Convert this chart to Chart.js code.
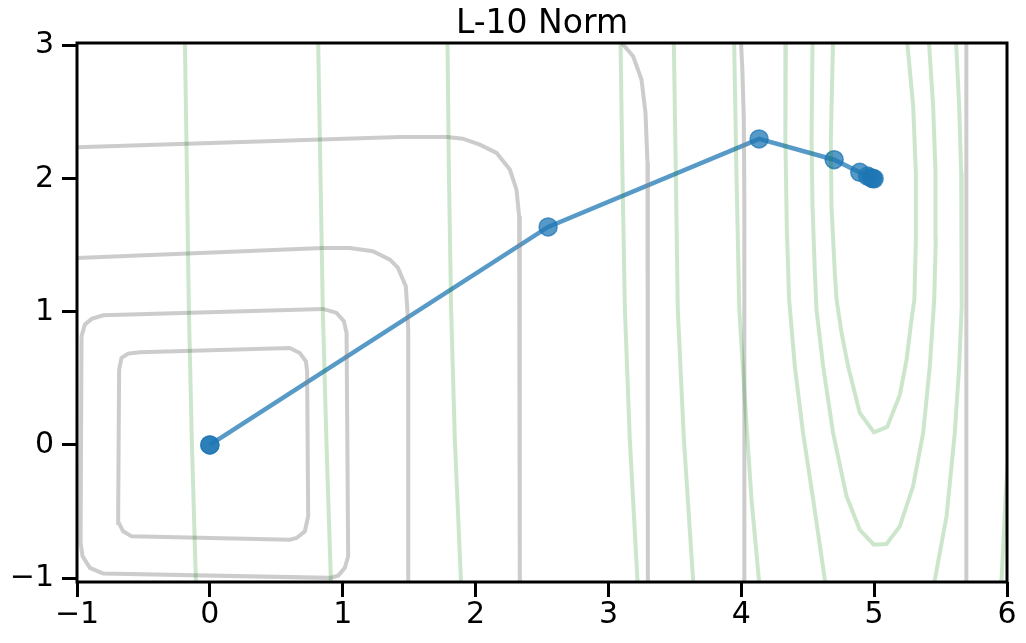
<!DOCTYPE html>
<html><head><meta charset="utf-8">
<script src="https://cdn.jsdelivr.net/npm/chart.js@4/dist/chart.umd.min.js"></script>
<style>html,body{margin:0;padding:0;background:#fff}canvas{display:block}</style>
</head><body>
<canvas id="c" width="1026" height="643"></canvas>
<script>
const titleText = 'L-10 Norm';
const xTicks = [-1, 0, 1, 2, 3, 4, 5, 6];
const yTicks = [-1, 0, 1, 2, 3];
const xTickLabels = ['−1', '0', '1', '2', '3', '4', '5', '6'];
const yTickLabels = ['−1', '0', '1', '2', '3'];

// descent path
const pathX = [0, 0, 2.546, 4.134, 4.699, 4.892, 4.95, 4.975, 4.99, 5.0];
const pathY = [0, 0, 1.638, 2.299, 2.143, 2.048, 2.02, 2.008, 2.002, 2.0];

// gray contours (L-10 norm level sets)
const norm1X = [-0.683,-0.665,-0.615,-0.527,0.602,0.677,0.723,0.732,0.740,0.715,0.653,0.602,-0.589,-0.653,-0.685,-0.690,-0.683];
const norm1Y = [0.566,0.654,0.686,0.696,0.729,0.691,0.628,0.553,-0.536,-0.649,-0.699,-0.712,-0.687,-0.649,-0.586,-0.511,0.566];
const norm2X = [-0.966,-0.941,-0.890,-0.803,0.853,0.954,1.009,1.029,1.041,1.016,0.966,0.903,-0.803,-0.903,-0.958,-0.973,-0.966];
const norm2Y = [0.816,0.904,0.947,0.974,1.022,0.992,0.929,0.841,-0.837,-0.924,-0.982,-0.999,-0.967,-0.924,-0.837,-0.736,0.816];
const norm3X = [-1.1,0.851,1.054,1.227,1.355,1.415,1.475,1.488,1.493,1.493];
const norm3Y = [1.400,1.480,1.480,1.455,1.392,1.332,1.192,0.992,0.866,-1.1];
const norm4X = [-1.1,1.430,1.784,1.904,2.032,2.158,2.258,2.308,2.328,2.333,2.333];
const norm4Y = [2.233,2.314,2.313,2.301,2.256,2.194,2.069,1.918,1.718,1.518,-1.1];
const norm5X = [3.093,3.111,3.186,3.249,3.279,3.294,3.297];
const norm5Y = [3.048,3.008,2.920,2.745,2.494,2.119,-1.1];
const norm6X = [3.997,4.008,4.019,4.023,4.023];
const norm6Y = [3.048,2.822,2.446,1.845,-1.1];
const norm7X = [5.694,5.694];
const norm7Y = [3.1,-1.1];

// green contours (loss level sets)
const lossEdgeY = [3.1,2.068,1.016,0.040,-1.027,-1.1];
const loss1X = [-0.189,-0.173,-0.158,-0.136,-0.105,-0.101];
const loss2X = [0.814,0.832,0.850,0.877,0.911,0.916];
const loss3X = [1.788,1.799,1.816,1.844,1.890,1.894];
const loss4X = [3.090,3.105,3.124,3.161,3.219,3.225];
const loss5X = [3.491,3.507,3.522,3.568,3.638,3.645];
const loss6X = [3.945,3.963,3.985,4.027,4.077,4.134,4.140];
const loss6Y = [3.1,2.068,1.016,0.341,-0.410,-1.027,-1.1];
const loss7LX = [4.336,4.332,4.343,4.360,4.403,4.465,4.541,4.629,4.640];
const loss7LY = [3.1,2.294,1.617,1.092,0.591,0.090,-0.410,-1.012,-1.1];
const loss7RX = [5.613,5.640,5.655,5.660,5.658,5.640,5.607,5.545,5.457,5.445];
const loss7RY = [3.1,2.544,2.044,1.542,1.041,0.591,0.090,-0.536,-1.012,-1.1];
const loss8X = [4.537,4.529,4.536,4.554,4.566,4.616,4.691,4.792,4.892,4.998,5.093,5.193,5.293,5.369,5.419,5.452,5.464,5.462,5.444,5.408];
const loss8Y = [3.1,2.294,1.793,1.292,1.017,0.591,0.090,-0.386,-0.638,-0.750,-0.744,-0.612,-0.311,0.090,0.591,1.092,1.542,2.044,2.544,3.1];
const loss9X = [4.692,4.674,4.679,4.704,4.717,4.755,4.804,4.892,4.998,5.098,5.194,5.244,5.281,5.303,5.314,5.314,5.294,5.242];
const loss9Y = [3.1,2.294,1.793,1.292,1.092,0.841,0.591,0.240,0.095,0.135,0.378,0.641,0.941,1.092,1.542,2.044,2.544,3.1];
const loss10X = [6.03,5.991,5.959,5.955];
const loss10Y = [0.2,-0.358,-1.012,-1.1];

const xy = (xs, ys) => xs.map((x, i) => ({ x: x, y: ys[i] }));
const FONT = "'DejaVu Sans', 'Liberation Sans', sans-serif";
const GRAY = 'rgba(128,128,128,0.4)';
const GREEN = 'rgba(0,128,0,0.2)';

function contour(xs, ys, color) {
  return { data: xy(xs, ys), showLine: true, borderColor: color, borderWidth: 4,
    pointRadius: 0, pointHoverRadius: 0, tension: 0, fill: false, clip: 0 };
}

const datasets = [
  contour(loss1X, lossEdgeY, GREEN), contour(loss2X, lossEdgeY, GREEN),
  contour(loss3X, lossEdgeY, GREEN), contour(loss4X, lossEdgeY, GREEN),
  contour(loss5X, lossEdgeY, GREEN), contour(loss6X, loss6Y, GREEN),
  contour(loss7LX, loss7LY, GREEN), contour(loss7RX, loss7RY, GREEN),
  contour(loss8X, loss8Y, GREEN), contour(loss9X, loss9Y, GREEN),
  contour(loss10X, loss10Y, GREEN),
  contour(norm1X, norm1Y, GRAY), contour(norm2X, norm2Y, GRAY),
  contour(norm3X, norm3Y, GRAY), contour(norm4X, norm4Y, GRAY),
  contour(norm5X, norm5Y, GRAY), contour(norm6X, norm6Y, GRAY),
  contour(norm7X, norm7Y, GRAY),
  { data: xy(pathX, pathY), showLine: true, borderColor: 'rgba(31,119,180,0.75)', borderWidth: 4.5,
    backgroundColor: 'rgba(31,119,180,0.75)', pointBackgroundColor: 'rgba(31,119,180,0.75)',
    pointBorderColor: 'rgba(31,119,180,0.75)', pointBorderWidth: 1.5, pointRadius: 9, tension: 0 }
];

const frame = {
  id: 'frame',
  afterDatasetsDraw(chart) {
    const a = chart.chartArea, ctx = chart.ctx;
    ctx.save();
    ctx.strokeStyle = '#000';
    ctx.lineWidth = 3;
    ctx.strokeRect(a.left, a.top, a.right - a.left, a.bottom - a.top);
    ctx.restore();
  }
};

new Chart(document.getElementById('c'), {
  type: 'scatter',
  data: { datasets: datasets },
  plugins: [frame],
  options: {
    responsive: false, animation: false, devicePixelRatio: 1,
    layout: { padding: { left: 0, right: 19, top: 0, bottom: 0 } },
    plugins: {
      legend: { display: false }, tooltip: { enabled: false },
      title: { display: true, text: titleText, color: '#000', fullSize: false,
        font: { family: FONT, size: 33, weight: 'normal', lineHeight: 1 },
        padding: { top: 8, bottom: 2 } }
    },
    scales: {
      x: { type: 'linear', position: 'bottom', min: -1, max: 6,
        afterBuildTicks: s => { s.ticks = xTicks.map(v => ({ value: v })); },
        afterFit: s => { s.height = 61; },
        border: { display: false },
        grid: { drawOnChartArea: false, drawTicks: true, tickLength: 15, tickWidth: 3, tickColor: '#000', color: 'rgba(0,0,0,0)' },
        ticks: { color: '#000', padding: 0, maxRotation: 0, autoSkip: false,
          font: { family: FONT, size: 30 },
          callback: v => { const i = xTicks.indexOf(v); return i >= 0 ? xTickLabels[i] : ''; } } },
      y: { type: 'linear', position: 'left', min: -1.03, max: 3.02,
        afterBuildTicks: s => { s.ticks = yTicks.map(v => ({ value: v })); },
        afterFit: s => { s.width = 77; },
        border: { display: false },
        grid: { drawOnChartArea: false, drawTicks: true, tickLength: 15, tickWidth: 3, tickColor: '#000', color: 'rgba(0,0,0,0)' },
        ticks: { color: '#000', padding: 8, autoSkip: false,
          font: { family: FONT, size: 30 },
          callback: v => { const i = yTicks.indexOf(v); return i >= 0 ? yTickLabels[i] : ''; } } }
    }
  }
});
</script>
</body></html>
